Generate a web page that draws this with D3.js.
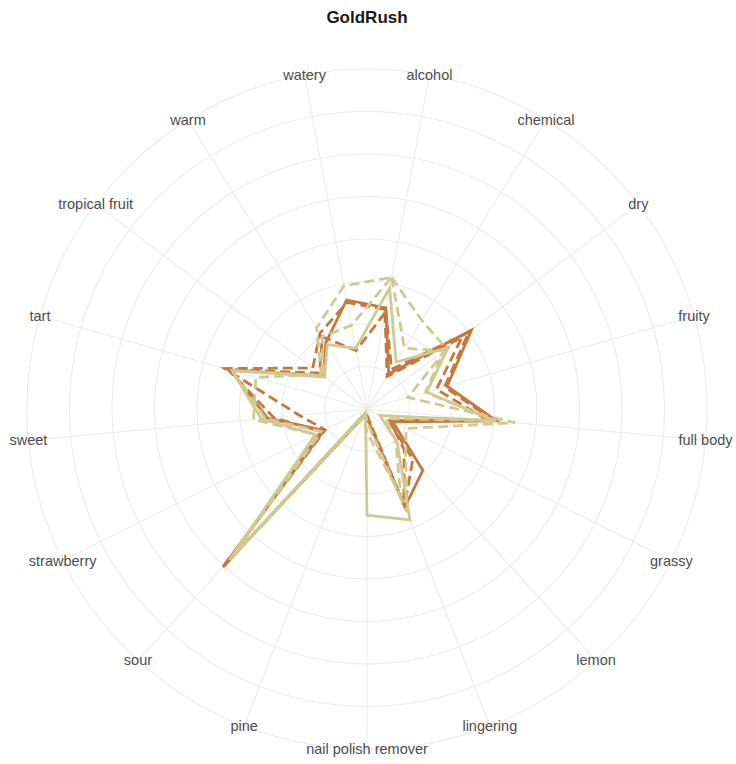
<!DOCTYPE html>
<html>
<head>
<meta charset="utf-8">
<script src="https://cdn.jsdelivr.net/npm/d3@7"></script>
<style>
  body { margin: 0; background: #fff; }
  svg { font-family: "Liberation Sans", Arial, sans-serif; }
</style>
</head>
<body>
<div id="chart"></div>
<script>
const categories = ['alcohol', 'chemical', 'dry', 'fruity', 'full body', 'grassy', 'lemon',
  'lingering', 'nail polish remover', 'pine', 'sour', 'strawberry', 'sweet', 'tart',
  'tropical fruit', 'warm', 'watery']

// one array per taster line
const orangeSolid = [2.42, 0.97, 3.08, 1.96, 3.06, 0.68, 1.95, 2.47, 0.2, 0.15, 5.03, 1.13, 2.35, 3.34, 1.29, 1.84, 2.61]
const orangeDashA = [2.38, 1.1, 3.0, 1.9, 3.0, 0.55, 1.6, 2.45, 0.15, 0.1, 5.05, 1.1, 1.6, 3.48, 1.6, 2.1, 2.55]
const orangeDashB = [2.3, 0.9, 2.8, 1.7, 2.85, 0.6, 1.3, 2.4, 0.25, 0.15, 4.9, 1.2, 2.2, 3.4, 1.4, 2.0, 1.4]
const khakiSolid = [2.9, 1.3, 2.4, 1.46, 3.0, 0.34, 1.05, 2.8, 2.5, 0.1, 4.8, 1.35, 2.5, 3.3, 1.25, 1.78, 1.45]
const khakiDashA = [3.15, 2.45, 2.35, 1.0, 3.5, 1.03, 1.35, 2.6, 0.3, 0.1, 4.75, 1.35, 2.68, 2.72, 1.35, 2.25, 2.95]
const khakiDashB = [3.15, 1.68, 2.27, 1.43, 3.05, 0.5, 1.0, 2.2, 0.55, 0.2, 4.7, 1.2, 2.4, 3.3, 1.3, 2.0, 2.0]

const ringValues = [1, 2, 3, 4, 5, 6, 7, 8]

const width = 736
const height = 764
const cx = 367
const cy = 409
const outer = 340

const orange = '#c8773a'
const khaki = '#d0ca92'

const series = [
  { values: orangeSolid, color: orange, dash: null },
  { values: orangeDashA, color: orange, dash: '10,5' },
  { values: orangeDashB, color: orange, dash: '10,5' },
  { values: khakiSolid, color: khaki, dash: null },
  { values: khakiDashA, color: khaki, dash: '10,5' },
  { values: khakiDashB, color: khaki, dash: '10,5' }
]

const svg = d3
  .select('#chart')
  .append('svg')
  .attr('width', width)
  .attr('height', height)

svg
  .append('text')
  .attr('x', cx)
  .attr('y', 23)
  .attr('text-anchor', 'middle')
  .attr('font-size', 17)
  .attr('font-weight', 'bold')
  .attr('fill', '#1a1a1a')
  .text('GoldRush')

const g = svg.append('g').attr('transform', `translate(${cx},${cy})`)

const r = d3.scaleLinear().domain([0, 8]).range([0, outer])
const angle = d3
  .scaleBand()
  .domain(categories)
  .range([0, 2 * Math.PI])
const theta = d => angle(d) + angle.bandwidth() / 2

// grid rings
g.selectAll('.ring')
  .data(ringValues)
  .enter()
  .append('circle')
  .attr('class', 'ring')
  .attr('r', d => r(d))
  .attr('fill', 'none')
  .attr('stroke', '#ebebeb')
  .attr('stroke-width', 1.1)

// spokes
g.selectAll('.spoke')
  .data(categories)
  .enter()
  .append('line')
  .attr('class', 'spoke')
  .attr('x1', 0)
  .attr('y1', 0)
  .attr('x2', d => Math.sin(theta(d)) * r(8))
  .attr('y2', d => -Math.cos(theta(d)) * r(8))
  .attr('stroke', '#ebebeb')
  .attr('stroke-width', 1.1)

const line = d3
  .lineRadial()
  .angle((d, i) => theta(categories[i]))
  .radius(d => r(d))
  .curve(d3.curveLinearClosed)

g.selectAll('.taster')
  .data(series)
  .enter()
  .append('path')
  .attr('class', 'taster')
  .attr('d', d => line(d.values))
  .attr('fill', 'none')
  .attr('stroke', d => d.color)
  .attr('stroke-width', 2.8)
  .attr('stroke-linejoin', 'miter')
  .attr('stroke-dasharray', d => d.dash)

// category labels
g.selectAll('.label')
  .data(categories)
  .enter()
  .append('text')
  .attr('class', 'label')
  .attr('x', d => Math.sin(theta(d)) * outer)
  .attr('y', d => -Math.cos(theta(d)) * outer)
  .attr('dy', '0.35em')
  .attr('text-anchor', 'middle')
  .attr('font-size', 14.5)
  .attr('fill', '#4d4d4d')
  .text(d => d)
</script>
</body>
</html>
